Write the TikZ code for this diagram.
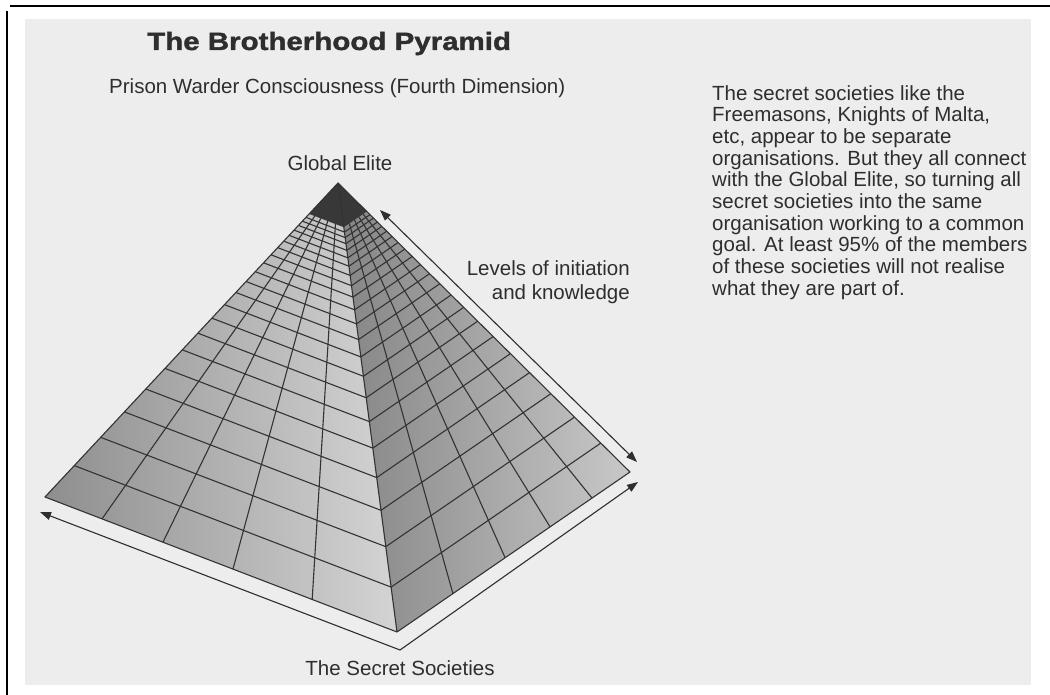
\documentclass[tikz,border=0pt]{standalone}
\usepackage{fontspec}
\setmainfont{Liberation Sans}
\newfontfamily\headfont[FakeBold=1.5, FakeStretch=1.18]{Liberation Sans Bold}
\usetikzlibrary{calc, positioning, arrows.meta}
\definecolor{ink}{HTML}{2E2E2E}
\definecolor{grid}{HTML}{333333}
\definecolor{paper}{HTML}{EDEDED}
\definecolor{stoneD}{HTML}{8E8E8E}
\definecolor{stoneL}{HTML}{D4D4D4}
\definecolor{shadeD}{HTML}{858585}
\definecolor{shadeL}{HTML}{C8C8C8}
\definecolor{capstone}{HTML}{383838}

\begin{document}
\begin{tikzpicture}[x=1pt, y=-1pt,
    font=\fontsize{20.5}{21.7}\selectfont,
    >={Triangle[length=11pt,width=8pt]},
    lbl/.style={text=ink, inner sep=0pt},
    course/.style={draw=grid, line width=1.1pt},
    span/.style={<->, draw=ink, line width=1.1pt}
  ]
  \useasboundingbox (0,0) rectangle (1050,695);
  \fill[paper] (25,19) rectangle (1031,685);
  \draw[line width=2pt] (10,6) -- (1050,6);
  \draw[line width=2pt] (7,11) -- (7,695);

  \coordinate (apex) at (338,183);
  \coordinate (lft) at (45,497);
  \coordinate (frt) at (397,632);
  \coordinate (rgt) at (630,472);
  \shade[left color=stoneD, right color=stoneL] (apex) -- (lft) -- (frt) -- cycle;
  \shade[left color=shadeD, right color=shadeL] (apex) -- (frt) -- (rgt) -- cycle;
  \foreach \k [evaluate=\k as \t using 0.9^\k] in {1,...,21}
    \draw[course] ($(apex)!\t!(lft)$) -- ($(apex)!\t!(frt)$) -- ($(apex)!\t!(rgt)$);
  \foreach \s in {0.162,0.335,0.534,0.759} {
    \coordinate (b) at ($(lft)!\s!(frt)$);
    \draw[course] ($(apex)!0.0985!(b)$) -- (b);
  }
  \foreach \s in {0.240,0.464,0.657,0.837} {
    \coordinate (b) at ($(frt)!\s!(rgt)$);
    \draw[course] ($(apex)!0.0985!(b)$) -- (b);
  }
  \coordinate (capL) at ($(apex)!0.0985!(lft)$);
  \coordinate (capF) at ($(apex)!0.0985!(frt)$);
  \coordinate (capR) at ($(apex)!0.0985!(rgt)$);
  \fill[capstone] (apex) -- (capL) -- (capF) -- (capR) -- cycle;
  \draw[course, line join=round] (apex) -- (lft) -- (frt) -- (rgt) -- cycle (apex) -- (frt);

  \coordinate (lvTop) at (380,210);
  \coordinate (lvBot) at (637,462);
  \draw[span] (lvTop) -- (lvBot);
  \coordinate (bsL) at (40,512);
  \coordinate (bsF) at (400,650);
  \coordinate (bsR) at (638,482);
  \draw[span] (bsL) -- (bsF) -- (bsR);

  \node[lbl, font=\fontsize{25}{28}\headfont, anchor=base west] (title) at (147,50) {The Brotherhood Pyramid};
  \node[lbl, anchor=west] (warder) at (109,88) {Prison Warder Consciousness (Fourth Dimension)};
  \node[lbl] (elite) at (340,163) {Global Elite};
  \node[lbl, font=\fontsize{20.5}{24}\selectfont, align=right, anchor=north east] (levels) at (630,260)
    {Levels of initiation\\and knowledge};
  \node[lbl] (societies) at (400,668) {The Secret Societies};
  \node[lbl, align=left, anchor=north west] (blurb) at (712,85)
    {The secret societies like the\\
     Freemasons, Knights of Malta,\\
     etc, appear to be separate\\
     organisations. But they all connect\\
     with the Global Elite, so turning all\\
     secret societies into the same\\
     organisation working to a common\\
     goal. At least 95\% of the members\\
     of these societies will not realise\\
     what they are part of.};
\end{tikzpicture}
\end{document}
